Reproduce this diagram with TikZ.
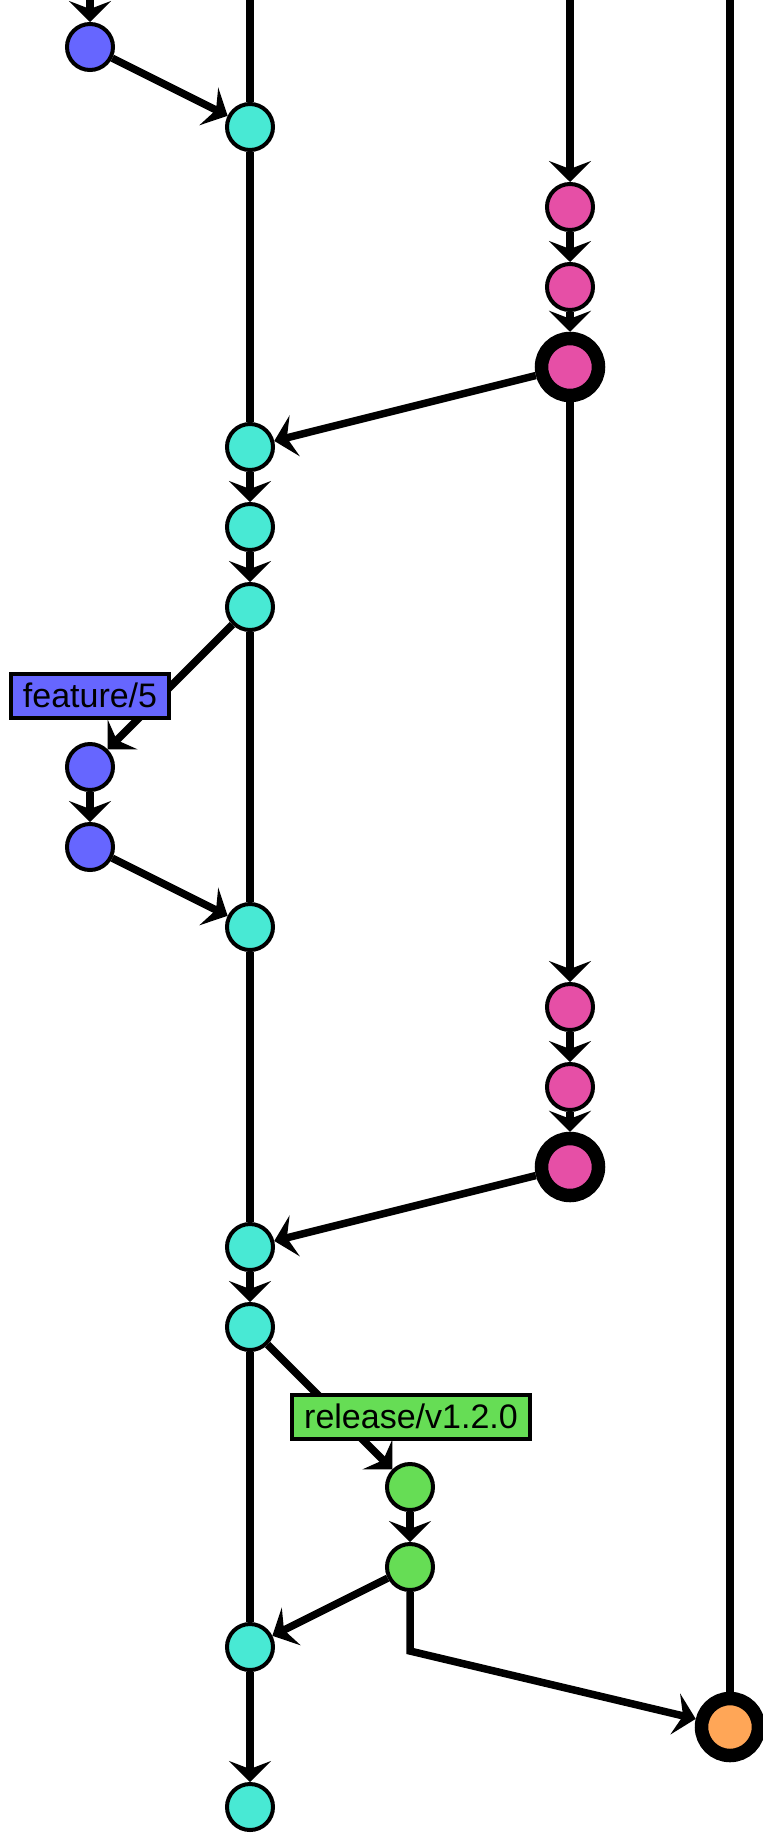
\documentclass[tikz,border=0pt]{standalone}
\usepackage{fontspec}
\setmainfont{Liberation Sans}
\usetikzlibrary{arrows.meta,backgrounds}
\definecolor{cpurple}{RGB}{102,102,255}
\definecolor{cteal}{RGB}{72,233,212}
\definecolor{cpink}{RGB}{230,79,166}
\definecolor{cgreen}{RGB}{102,221,85}
\definecolor{corange}{RGB}{255,166,87}
\begin{document}
\begin{tikzpicture}[x=1pt,y=-1pt,
 commit/.style={circle,draw=black,line width=4pt,minimum size=46pt,inner sep=0pt},
 bigcommit/.style={circle,draw=black,line width=13.5pt,minimum size=57pt,inner sep=0pt},
 edge/.style={line width=7.5pt,draw=black},
 arr/.style={edge,-{Stealth[length=21pt,width=42pt,inset=8pt]}},
 tag/.style={rectangle,draw=black,line width=3.5pt,font=\fontsize{34}{40}\selectfont,inner xsep=12pt,inner ysep=0pt,minimum height=44pt,text height=24pt,text depth=2pt}]
\useasboundingbox (0,0) rectangle (763,1837);
% commits
\node[commit,fill=cpurple] (p0) at (90,47) {};
\node[commit,fill=cteal] (t1) at (250,127) {};
\node[commit,fill=cpink] (k2) at (570,207) {};
\node[commit,fill=cpink] (k3) at (570,287) {};
\node[bigcommit,fill=cpink] (k4) at (570,367) {};
\node[commit,fill=cteal] (t5) at (250,447) {};
\node[commit,fill=cteal] (t6) at (250,527) {};
\node[commit,fill=cteal] (t7) at (250,607) {};
\node[commit,fill=cpurple] (p9) at (90,767) {};
\node[commit,fill=cpurple] (p10) at (90,847) {};
\node[commit,fill=cteal] (t11) at (250,927) {};
\node[commit,fill=cpink] (k12) at (570,1007) {};
\node[commit,fill=cpink] (k13) at (570,1087) {};
\node[bigcommit,fill=cpink] (k14) at (570,1167) {};
\node[commit,fill=cteal] (t15) at (250,1247) {};
\node[commit,fill=cteal] (t16) at (250,1327) {};
\node[commit,fill=cgreen] (g18) at (410,1487) {};
\node[commit,fill=cgreen] (g19) at (410,1567) {};
\node[commit,fill=cteal] (t20) at (250,1647) {};
\node[bigcommit,fill=corange] (o21) at (730,1727) {};
\node[commit,fill=cteal] (t22) at (250,1807) {};
% free ends
\coordinate (ptop) at (90,0);
\coordinate (ttop) at (250,0);
\coordinate (ktop) at (570,0);
\coordinate (otop) at (730,0);
\coordinate (corner) at (410,1651);
% connectors
\begin{scope}[on background layer]
\draw[arr] (ptop) -- (p0);
\draw[edge] (ttop) -- (t1);
\draw[arr] (ktop) -- (k2);
\draw[edge] (otop) -- (o21);
\draw[arr] (p0) -- (t1);
\draw[edge] (t1) -- (t5);
\draw[arr] (k2) -- (k3);
\draw[arr] (k3) -- (k4);
\draw[arr] (k4) -- (t5);
\draw[arr] (t5) -- (t6);
\draw[arr] (t6) -- (t7);
\draw[arr] (t7) -- (p9);
\draw[arr] (p9) -- (p10);
\draw[arr] (p10) -- (t11);
\draw[edge] (t7) -- (t11);
\draw[arr] (k4) -- (k12);
\draw[arr] (k12) -- (k13);
\draw[arr] (k13) -- (k14);
\draw[edge] (t11) -- (t15);
\draw[arr] (k14) -- (t15);
\draw[arr] (t15) -- (t16);
\draw[arr] (t16) -- (g18);
\draw[arr] (g18) -- (g19);
\draw[arr] (g19) -- (t20);
\draw[edge] (t16) -- (t20);
\draw[arr] (g19) -- (corner) -- (o21);
\draw[arr] (t20) -- (t22);
\end{scope}
% branch labels
\node[tag,fill=cpurple] (lf) at (90,696) {feature/5};
\node[tag,fill=cgreen] (lr) at (411,1417) {release/v1.2.0};
\end{tikzpicture}
\end{document}
